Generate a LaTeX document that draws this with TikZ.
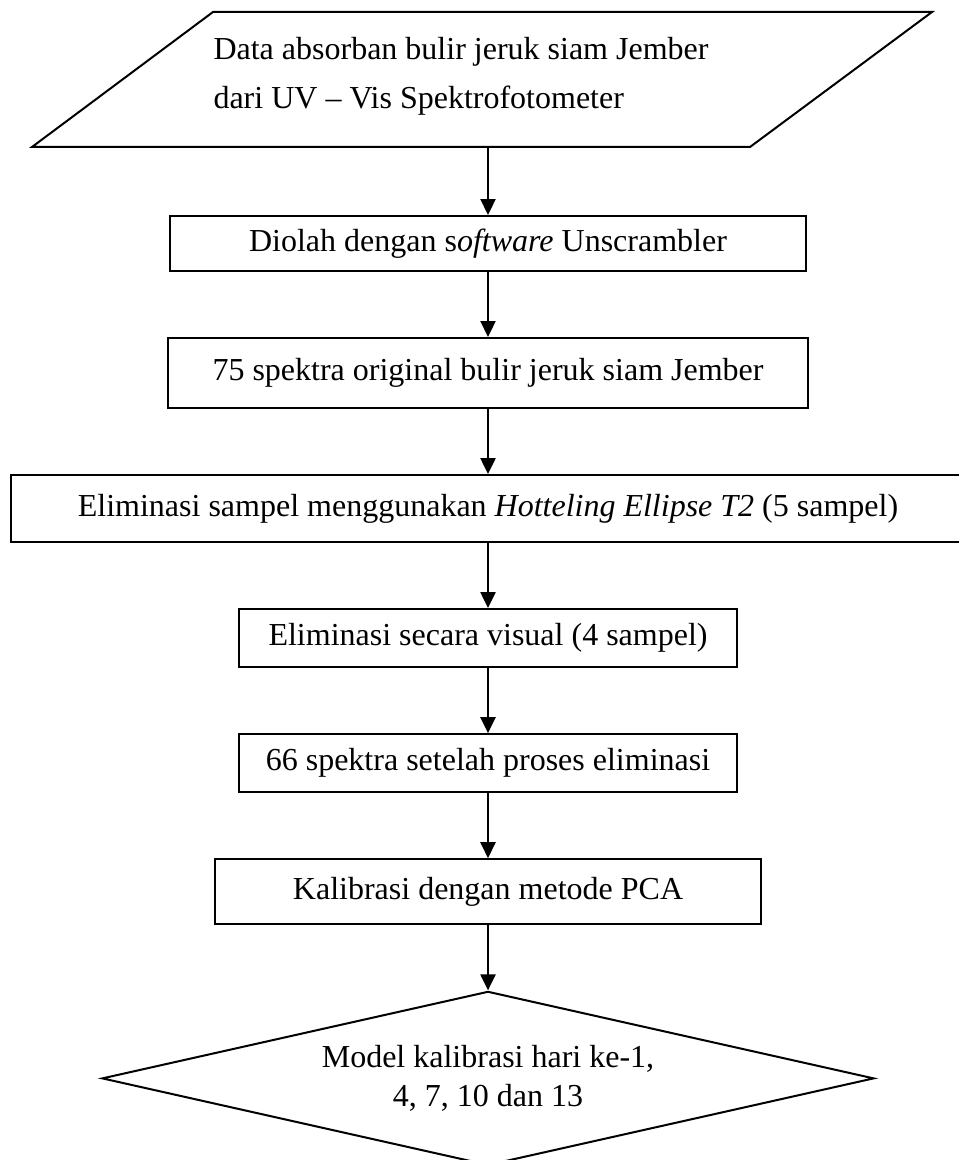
\documentclass[tikz,border=0pt]{standalone}
\usepackage{fontspec}
\setmainfont{Liberation Serif}
\usetikzlibrary{positioning,shapes.geometric,arrows.meta}

\begin{document}
\begin{tikzpicture}[x=0.375pt, y=0.375pt, node distance=24.4pt,
  every node/.style = {font=\fontsize{12}{14.5}\selectfont},
  kotak/.style = {rectangle, draw, line width=.75pt, align=center},
  panah/.style = {-{Triangle[length=6pt, width=5.6pt]}, line width=.9pt}]
  \useasboundingbox (0,0) rectangle (958,-1160);
  % data masukan (jajaran genjang)
  \draw[line width=.75pt] (213,-12) -- (932,-12) -- (750,-147) -- (32,-147) -- cycle;
  \coordinate (input) at (488,-147);
  \node[align=left, anchor=north west, inner sep=0pt] (data) at (213,-37)
    {Data absorban bulir jeruk siam Jember\\[3.9pt]
     dari UV -- Vis Spektrofotometer};
  \node[kotak, minimum width=238.5pt, minimum height=20.6pt] (olah) at (488,-243.5)
    {Diolah dengan s\textit{oftware} Unscrambler};
  \node[kotak, minimum width=240pt, minimum height=26.25pt, below=of olah] (spektra)
    {75 spektra original bulir jeruk siam Jember};
  \node[kotak, minimum width=357.75pt, minimum height=25.1pt, below=of spektra] (hotel)
    {Eliminasi sampel menggunakan \textit{Hotteling Ellipse T2} (5 sampel)};
  \node[kotak, minimum width=186.75pt, minimum height=21.75pt, below=of hotel] (visual)
    {Eliminasi secara visual (4 sampel)};
  \node[kotak, minimum width=186.75pt, minimum height=21.75pt, below=of visual] (sisa)
    {66 spektra setelah proses eliminasi};
  \node[kotak, minimum width=204.75pt, minimum height=24.4pt, below=of sisa] (kalib)
    {Kalibrasi dengan metode PCA};
  \node[diamond, draw, line width=.75pt, align=center, inner sep=0pt, shape aspect=4.44,
    minimum width=289.5pt, minimum height=65.25pt, below=of kalib] (model)
    {Model kalibrasi hari ke-1,\\ 4, 7, 10 dan 13};
  % panah antar proses
  \draw[panah] (input) -- (olah);
  \foreach \a/\b in {olah/spektra, spektra/hotel, hotel/visual,
    visual/sisa, sisa/kalib, kalib/model}
    \draw[panah] (\a) -- (\b);
\end{tikzpicture}
\end{document}
